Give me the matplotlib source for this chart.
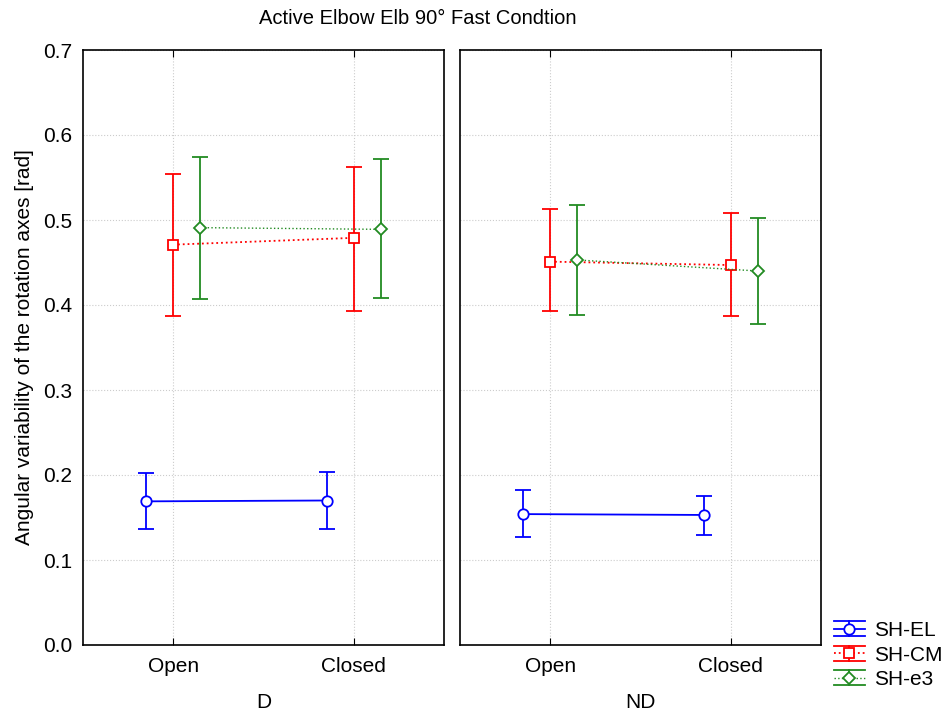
import matplotlib
matplotlib.use("Agg")
import matplotlib.pyplot as plt
from matplotlib.legend_handler import HandlerBase
from matplotlib.lines import Line2D
import numpy as np

plt.rcParams['font.family'] = ['Liberation Sans', 'DejaVu Sans']

categories = ["Open", "Closed"]
panels = ["D", "ND"]
series = ["SH-EL", "SH-CM", "SH-e3"]

# means and lower/upper bounds per panel [Open, Closed]
el_mean = {"D": [0.169, 0.170], "ND": [0.154, 0.153]}
el_low = {"D": [0.136, 0.137], "ND": [0.127, 0.130]}
el_high = {"D": [0.202, 0.203], "ND": [0.182, 0.175]}

cm_mean = {"D": [0.471, 0.479], "ND": [0.451, 0.447]}
cm_low = {"D": [0.387, 0.393], "ND": [0.393, 0.387]}
cm_high = {"D": [0.554, 0.562], "ND": [0.513, 0.508]}

e3_mean = {"D": [0.491, 0.489], "ND": [0.453, 0.440]}
e3_low = {"D": [0.407, 0.408], "ND": [0.388, 0.378]}
e3_high = {"D": [0.574, 0.572], "ND": [0.518, 0.502]}

styles = [
    dict(color="#0000FF", ls="-", marker="o", ms=7.5, offset=-0.15, lw=1.3),
    dict(color="#FF0000", ls=":", marker="s", ms=7.5, offset=0.0, lw=1.3),
    dict(color="#228B22", ls=":", marker="D", ms=6.0, offset=0.15, lw=1.0),
]
data = [(el_mean, el_low, el_high), (cm_mean, cm_low, cm_high), (e3_mean, e3_low, e3_high)]


class ErrHandler(HandlerBase):
    def __init__(self, st):
        super().__init__()
        self.st = st

    def create_artists(self, legend, orig_handle, xdescent, ydescent, width, height, fontsize, trans):
        st = self.st
        c = st["color"]
        yc = height / 2 - ydescent
        x0, x1 = -xdescent, width - xdescent
        xm = (x0 + x1) / 2
        dy = height * 0.52
        arts = [
            Line2D([x0, x1], [yc, yc], color=c, ls=st["ls"], lw=st["lw"]),
            Line2D([x0, x1], [yc + dy, yc + dy], color=c, lw=1.3),
            Line2D([x0, x1], [yc - dy, yc - dy], color=c, lw=1.3),
            Line2D([xm, xm], [yc - dy, yc + dy], color=c, lw=1.3),
            Line2D([xm], [yc], marker=st["marker"], ms=st["ms"], mfc="white", mec=c, mew=1.3, ls="none"),
        ]
        for a in arts:
            a.set_transform(trans)
        return arts


fig = plt.figure(figsize=(9.46, 7.16), dpi=100)
W, H = 946, 716
ax_boxes = [(83, 444), (460, 821)]
top, bottom = 50, 645
axes = []
for (l, r) in ax_boxes:
    ax = fig.add_axes([l / W, 1 - bottom / H, (r - l) / W, (bottom - top) / H])
    axes.append(ax)

handles = []
for pi, (ax, pname) in enumerate(zip(axes, panels)):
    x = np.arange(len(categories))
    for si, (st, (m, lo, hi)) in enumerate(zip(styles, data)):
        mm = np.array(m[pname])
        yerr = np.array([mm - np.array(lo[pname]), np.array(hi[pname]) - mm])
        cont = ax.errorbar(x + st["offset"], mm, yerr=yerr, color=st["color"],
                           ls=st["ls"], lw=st["lw"], marker=st["marker"], ms=st["ms"],
                           mfc="white", mec=st["color"], mew=1.3,
                           elinewidth=1.3, capsize=6, capthick=1.3, label=series[si])
        if pi == 0:
            handles.append(cont)
    ax.set_xlim(-0.5, 1.5)
    ax.set_ylim(0.0, 0.7)
    ax.set_xticks(x)
    ax.set_xticklabels(categories, fontsize=15)
    ax.set_yticks(np.arange(0, 0.71, 0.1))
    ax.grid(True, ls=":", color="#cccccc", lw=0.8)
    ax.set_axisbelow(True)
    ax.tick_params(axis="x", direction="in", top=True, length=5, pad=9)
    ax.tick_params(axis="y", length=0, pad=8)
    for s in ax.spines.values():
        s.set_linewidth(1.2)
    ax.set_xlabel(pname, fontsize=15, labelpad=12)
    if pi == 0:
        ax.set_yticklabels([f"{v:.1f}" for v in np.arange(0, 0.71, 0.1)], fontsize=15)
        ax.set_ylabel("Angular variability of the rotation axes [rad]", fontsize=15, labelpad=6)
    else:
        ax.set_yticklabels([])

fig.text(418 / W, 1 - 18 / H, "Active Elbow Elb 90° Fast Condtion", ha="center", va="center", fontsize=14.5)

handler_map = {h: ErrHandler(st) for h, st in zip(handles, styles)}
fig.legend(handles=handles, labels=series, loc="lower right", bbox_to_anchor=(1.01, 0.02),
           frameon=False, fontsize=15, handlelength=1.5, handletextpad=0.45,
           labelspacing=0.27, borderaxespad=0.2, handler_map=handler_map)

fig.savefig("out.png", dpi=100)
